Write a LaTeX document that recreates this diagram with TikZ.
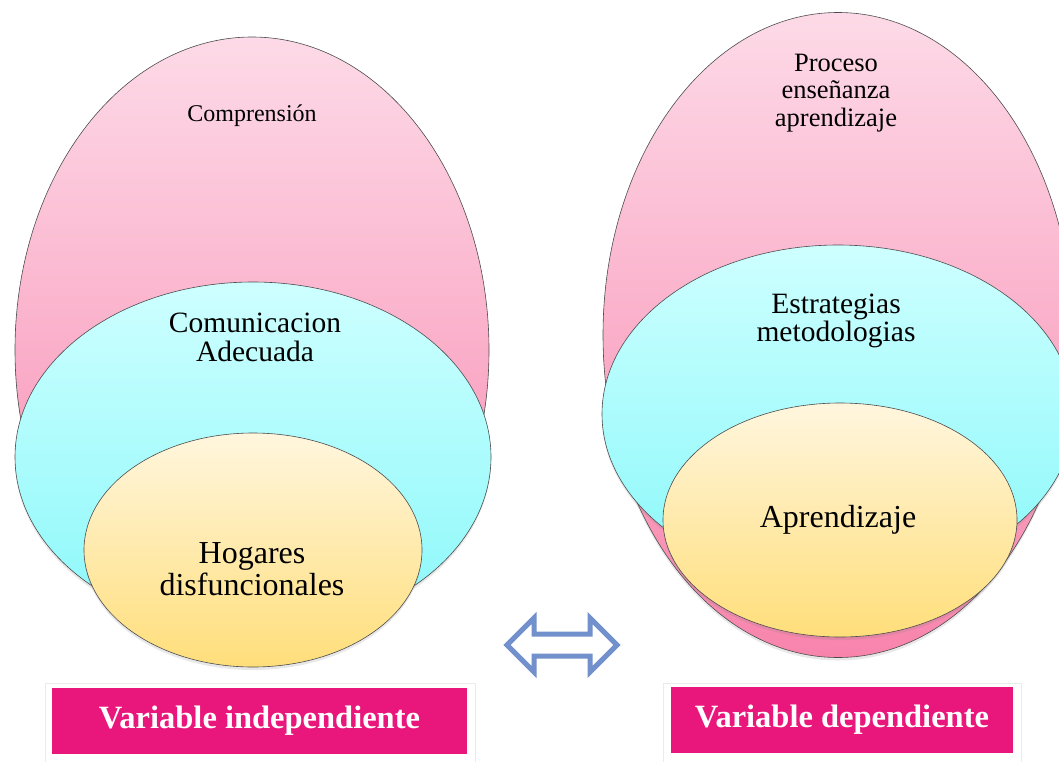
\documentclass[tikz,border=0pt]{standalone}
\usepackage{fontspec}
\setmainfont{Liberation Serif}
\usetikzlibrary{shapes.geometric,shadows}
\definecolor{pinktop}{RGB}{253,218,231}
\definecolor{pinkbot}{RGB}{248,132,172}
\definecolor{cyantop}{RGB}{206,255,255}
\definecolor{cyanbot}{RGB}{138,248,250}
\definecolor{yeltop}{RGB}{255,246,222}
\definecolor{yelbot}{RGB}{255,222,122}
\definecolor{labelmag}{RGB}{233,23,123}
\definecolor{arrowblue}{RGB}{114,144,203}
\begin{document}
\begin{tikzpicture}[x=1pt, y=-1pt,
    blob/.style={ellipse, draw=black!70, line width=0.6pt, inner sep=0pt,
        drop shadow={opacity=0.18, shadow xshift=0pt, shadow yshift=-3pt}},
    pinkblob/.style={blob, top color=pinktop, bottom color=pinkbot},
    cyanblob/.style={blob, top color=cyantop, bottom color=cyanbot},
    yelblob/.style={blob, top color=yeltop, bottom color=yelbot},
    varbox/.style={fill=labelmag, inner sep=0pt, text=white,
        font=\bfseries\fontsize{32.5}{34}\selectfont}]
    \useasboundingbox (0,0) rectangle (1059,761);

    % variable independiente
    \node [pinkblob, minimum width=474pt, minimum height=626pt] at (252, 350) (pinkL) {};
    \node [cyanblob, minimum width=476pt, minimum height=350pt] at (253, 457) (cyanL) {};
    \node [yelblob, minimum width=338pt, minimum height=234pt] at (253, 550) (yelL) {};
    \node [font=\fontsize{24}{26}\selectfont] at (252, 116) (txtPinkL) {Comprensión};
    \node [align=center, font=\fontsize{29.5}{29}\selectfont] at (255, 337) (txtCyanL) {Comunicacion\\Adecuada};
    \node [align=center, font=\fontsize{32}{32}\selectfont] at (252, 569) (txtYelL) {Hogares\\disfuncionales};

    % variable dependiente
    \node [pinkblob, minimum width=470pt, minimum height=645pt] at (838, 335) (pinkR) {};
    \node [cyanblob, minimum width=472pt, minimum height=338pt] at (838, 414) (cyanR) {};
    \node [yelblob, minimum width=354pt, minimum height=234pt] at (840, 520) (yelR) {};
    \node [align=center, font=\fontsize{26.5}{27.5}\selectfont] at (836, 93) (txtPinkR) {Proceso\\enseñanza\\aprendizaje};
    \node [align=center, font=\fontsize{29.5}{28}\selectfont] at (836, 321) (txtCyanR) {Estrategias\\metodologias};
    \node [font=\fontsize{32}{34}\selectfont] at (838, 520) (txtYelR) {Aprendizaje};

    % flecha doble
    \draw [arrowblue, line width=5pt, fill=white, line join=miter]
        (507, 645) -- (534, 618) -- (534, 634) -- (590, 634) -- (590, 618) -- (617, 645)
        -- (590, 672) -- (590, 656) -- (534, 656) -- (534, 672) -- cycle;

    % etiquetas
    \node [draw=black!8, minimum width=430pt, minimum height=92pt] at (260, 729) (frameL) {};
    \node [draw=black!8, minimum width=358pt, minimum height=92pt] at (842, 729) (frameR) {};
    \node [varbox, minimum width=415pt, minimum height=66pt] at (259.5, 721) (varL) {Variable independiente};
    \node [varbox, minimum width=342pt, minimum height=66pt] at (842, 720) (varR) {Variable dependiente};
\end{tikzpicture}
\end{document}
